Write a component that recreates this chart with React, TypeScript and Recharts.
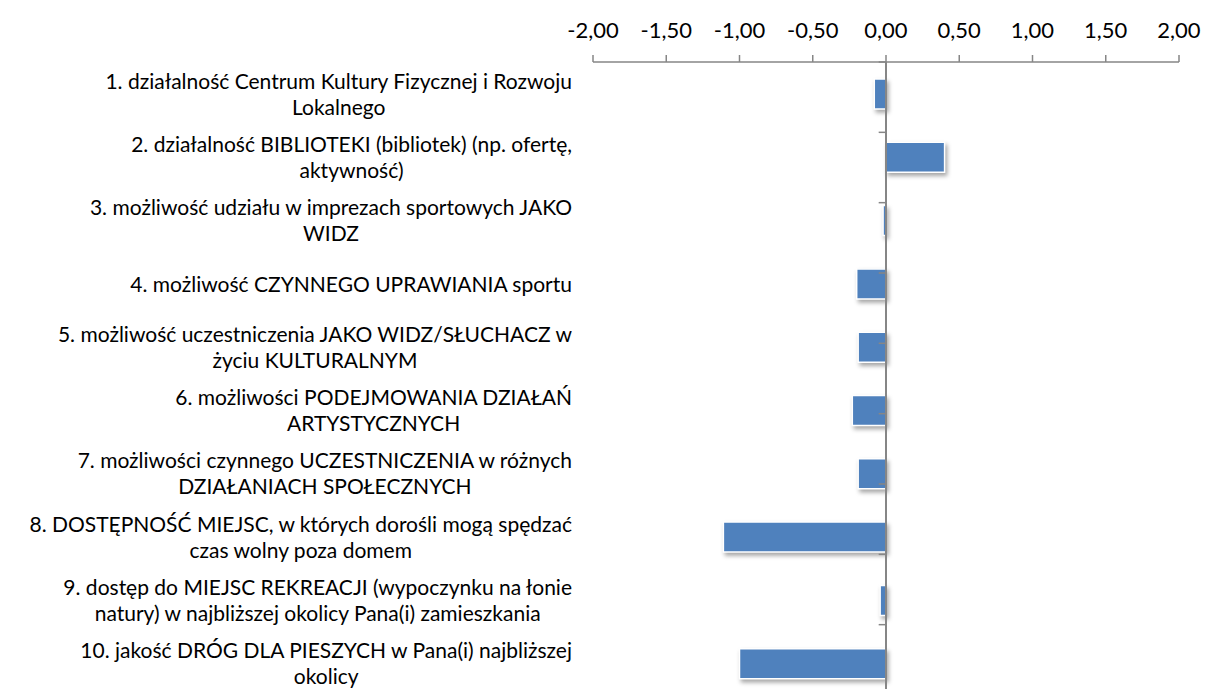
import { Bar, BarChart, ReferenceLine, XAxis, YAxis } from "recharts"

const categories = [
  "1. działalność Centrum Kultury Fizycznej i Rozwoju\nLokalnego",
  "2. działalność BIBLIOTEKI (bibliotek) (np. ofertę,\naktywność)",
  "3. możliwość udziału w imprezach sportowych JAKO\nWIDZ",
  "4. możliwość CZYNNEGO UPRAWIANIA sportu",
  "5. możliwość uczestniczenia JAKO WIDZ/SŁUCHACZ w\nżyciu KULTURALNYM",
  "6. możliwości PODEJMOWANIA DZIAŁAŃ\nARTYSTYCZNYCH",
  "7. możliwości czynnego UCZESTNICZENIA w różnych\nDZIAŁANIACH SPOŁECZNYCH",
  "8. DOSTĘPNOŚĆ MIEJSC, w których dorośli mogą spędzać\nczas wolny poza domem",
  "9. dostęp do MIEJSC REKREACJI (wypoczynku na łonie\nnatury) w najbliższej okolicy Pana(i) zamieszkania",
  "10. jakość DRÓG DLA PIESZYCH w Pana(i) najbliższej\nokolicy",
]

const values = [-0.08, 0.4, -0.02, -0.2, -0.19, -0.23, -0.19, -1.11, -0.04, -1.0]

const xTicks = [-2, -1.5, -1, -0.5, 0, 0.5, 1, 1.5, 2]

const data = categories.map((name, i) => ({ name, value: values[i] }))
const boundaries = categories.map((_, i) => i).concat(categories.length)

const FONT = "Lato, 'Open Sans', sans-serif"
const AXIS = "#868686"

function CategoryTick(props: any) {
  const { x, y, payload } = props
  const lines: string[] = String(payload.value).split("\n")
  return (
    <foreignObject x={0} y={y - 40} width={x} height={80}>
      <div
        style={{
          height: "100%",
          display: "flex",
          justifyContent: "flex-end",
          alignItems: "center",
        }}
      >
        <div
          style={{
            textAlign: "center",
            fontFamily: FONT,
            fontSize: 21,
            lineHeight: "26px",
            color: "#000",
            whiteSpace: "nowrap",
          }}
        >
          {lines.map((l, i) => (
            <div key={i}>{l}</div>
          ))}
        </div>
      </div>
    </foreignObject>
  )
}

export default function App() {
  return (
    <div style={{ position: "absolute", left: 0, top: 0, width: 1206, height: 689, overflow: "hidden", background: "#fff" }}>
      <BarChart
        width={1206}
        height={700}
        data={data}
        layout="vertical"
        margin={{ top: 0, right: 27, bottom: 5, left: 0 }}
      >
        <XAxis
          type="number"
          orientation="top"
          domain={[-2, 2]}
          ticks={xTicks}
          height={62}
          axisLine={{ stroke: AXIS, strokeWidth: 1.5 }}
          tickLine={{ stroke: AXIS, strokeWidth: 1.5 }}
          tickSize={7}
          tickMargin={17}
          tick={{ fill: "#000", fontSize: 22, fontFamily: FONT }}
          tickFormatter={(v: number) => v.toFixed(2).replace(".", ",")}
          interval={0}
        />
        <YAxis
          type="category"
          dataKey="name"
          width={593}
          axisLine={false}
          tickLine={false}
          tickSize={0}
          tickMargin={21}
          tick={<CategoryTick />}
          interval={0}
        />
        <YAxis yAxisId="grid" type="number" domain={[0, categories.length]} reversed hide />
        <Bar
          dataKey="value"
          fill="#4F81BD"
          stroke="#fff"
          strokeWidth={1.5}
          barSize={30}
          isAnimationActive={false}
          style={{ filter: "drop-shadow(2px 3px 2px rgba(0,0,0,0.35))" }}
        />
        <ReferenceLine x={0} yAxisId="grid" stroke={AXIS} strokeWidth={2} />
        {boundaries.map((b) => (
          <ReferenceLine
            key={b}
            yAxisId="grid"
            segment={[
              { x: -0.05, y: b },
              { x: 0, y: b },
            ]}
            stroke={AXIS}
            strokeWidth={1.5}
          />
        ))}
      </BarChart>
    </div>
  )
}
